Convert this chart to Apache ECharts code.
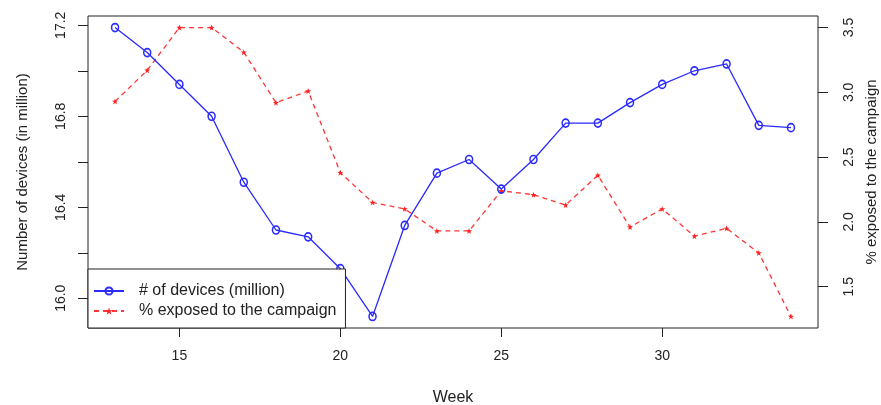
<!DOCTYPE html>
<html>
<head>
<meta charset="utf-8">
<script src="https://cdn.jsdelivr.net/npm/echarts@6/dist/echarts.min.js"></script>
<style>
html,body{margin:0;padding:0;background:#fff;}
#chart{width:881px;height:405px;}
</style>
</head>
<body>
<div id="chart"></div>
<script>
// ---- data ----
const weeks   = [13,14,15,16,17,18,19,20,21,22,23,24,25,26,27,28,29,30,31,32,33,34];
const devices = [17.19,17.08,16.94,16.80,16.51,16.30,16.27,16.13,15.92,16.32,16.55,16.61,16.48,16.61,16.77,16.77,16.86,16.94,17.00,17.03,16.76,16.75];
const exposed = [2.93,3.17,3.50,3.50,3.31,2.92,3.01,2.38,2.15,2.10,1.93,1.93,2.24,2.21,2.13,2.36,1.96,2.10,1.89,1.95,1.76,1.27];
const xTicks      = [15,20,25,30];
const leftTicks   = [16.0,16.2,16.4,16.6,16.8,17.0,17.2];
const leftLabels  = [16.0,16.4,16.8,17.2];
const rightTicks  = [1.5,2.0,2.5,3.0,3.5];
const seriesNames = ['# of devices (million)','% exposed to the campaign'];

// R-style 4% axis extension
function ext(arr){const mn=Math.min(...arr),mx=Math.max(...arr),d=(mx-mn)*0.04;return [mn-d,mx+d];}
const xr = ext(weeks), lr = ext(devices), rr = ext(exposed);

const FONT = '"Liberation Sans", Arial, sans-serif';
const TXT = '#222';
const chart = echarts.init(document.getElementById('chart'));
const starPath = 'path://M0,-10 L2.4,-3.1 L9.5,-3.1 L3.8,1.2 L5.9,8.1 L0,4 L-5.9,8.1 L-3.8,1.2 L-9.5,-3.1 L-2.4,-3.1 Z';

chart.setOption({
  animation:false,
  textStyle:{fontFamily:FONT},
  grid:{left:88,right:63,top:16,bottom:77,show:true,borderColor:'#222',borderWidth:1,
        containLabel:false,outerBoundsMode:'none'},
  legend:{
    orient:'vertical', left:88, top:269,
    data:seriesNames,
    backgroundColor:'#fff', borderColor:'#222', borderWidth:1,
    padding:[13,9,8,5], itemGap:2, itemWidth:30, itemHeight:9,
    textStyle:{fontSize:16,lineHeight:18,color:TXT,fontFamily:FONT,padding:[0,0,0,10]}
  },
  xAxis:{
    type:'value', min:xr[0], max:xr[1],
    name:'Week', nameLocation:'middle', nameGap:62,
    nameTextStyle:{fontSize:16,color:TXT,fontFamily:FONT},
    axisLine:{show:false,onZero:false},
    axisTick:{show:true,length:9,customValues:xTicks,lineStyle:{color:'#222'}},
    axisLabel:{customValues:xTicks,margin:21,fontSize:14,color:TXT,fontFamily:FONT},
    splitLine:{show:false}
  },
  yAxis:[{
    type:'value', min:lr[0], max:lr[1], position:'left',
    name:'Number of devices (in million)', nameLocation:'middle', nameGap:58, nameRotate:90,
    nameTextStyle:{fontSize:15,color:TXT,fontFamily:FONT},
    axisLine:{show:false,onZero:false},
    axisTick:{show:true,length:10,customValues:leftTicks,lineStyle:{color:'#222'}},
    axisLabel:{customValues:leftLabels,rotate:90,margin:20,fontSize:14,color:TXT,fontFamily:FONT,
      formatter:v=>v.toFixed(1)},
    splitLine:{show:false}
  },{
    type:'value', min:rr[0], max:rr[1], position:'right',
    name:'% exposed to the campaign', nameLocation:'middle', nameGap:40, nameRotate:90,
    nameTextStyle:{fontSize:15,color:TXT,fontFamily:FONT},
    axisLine:{show:false,onZero:false},
    axisTick:{show:true,length:10,customValues:rightTicks,lineStyle:{color:'#222'}},
    axisLabel:{customValues:rightTicks,rotate:90,margin:24,fontSize:14,color:TXT,fontFamily:FONT,
      formatter:v=>v.toFixed(1)},
    splitLine:{show:false}
  }],
  series:[{
    name:seriesNames[0], type:'line', yAxisIndex:0,
    data:weeks.map((w,i)=>[w,devices[i]]),
    symbol:'circle', symbolSize:[7,8],
    lineStyle:{color:'#2a2aff',width:1.3},
    itemStyle:{color:'rgba(255,255,255,0)',borderColor:'#2a2aff',borderWidth:1.6},
    z:3
  },{
    name:seriesNames[1], type:'line', yAxisIndex:1,
    data:weeks.map((w,i)=>[w,exposed[i]]),
    symbol:starPath, symbolSize:6,
    lineStyle:{color:'#ff3535',width:1.3,type:[5,4]},
    itemStyle:{color:'#ff2020'},
    z:2
  }]
});
</script>
</body>
</html>
